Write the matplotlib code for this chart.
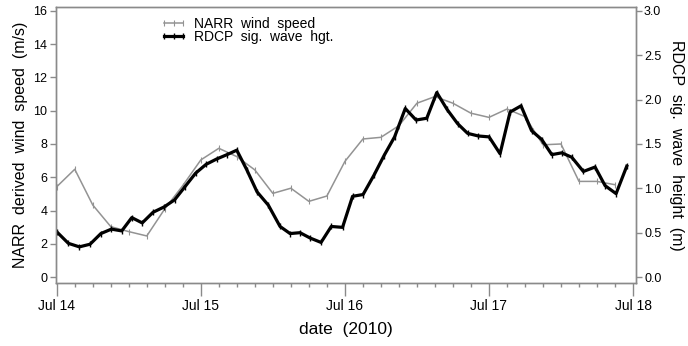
import numpy as np
import matplotlib
matplotlib.use("Agg")
import matplotlib.pyplot as plt
from matplotlib.ticker import MultipleLocator

plt.rcParams['font.family'] = ['Liberation Sans', 'DejaVu Sans']

# NARR wind speed (m/s), 3-hourly from Jul 14 00:00
narr_hours = np.arange(0, 96, 3)
narr_speed = [5.43, 6.48, 4.33, 3.03, 2.73, 2.47, 4.10, 5.50,
              7.04, 7.74, 7.24, 6.44, 5.03, 5.34, 4.55, 4.87,
              6.95, 8.30, 8.40, 9.10, 10.45, 10.85, 10.45, 9.85,
              9.60, 10.10, 9.65, 7.95, 8.00, 5.75, 5.75, 5.55]

# RDCP significant wave height (m), hours since Jul 14 00:00
rdcp_hours = [0.0, 1.93, 3.77, 5.55, 7.35, 9.10, 10.83, 12.50, 14.24, 16.04,
              17.88, 19.63, 21.38, 23.12, 24.87, 26.62, 28.37, 29.99, 31.65, 33.37,
              35.25, 37.20, 38.87, 40.53, 42.20, 44.03, 45.73, 47.61, 49.28, 51.03,
              52.86, 54.53, 56.28, 58.06, 59.86, 61.64, 63.31, 65.02, 66.77, 68.44,
              70.24, 72.02, 73.85, 75.52, 77.35, 79.10, 80.80, 82.47, 84.13, 85.80,
              87.73, 89.68, 91.35, 93.18, 94.96]
rdcp_hgt = [0.51, 0.38, 0.34, 0.37, 0.49, 0.54, 0.52, 0.67, 0.61, 0.73,
            0.79, 0.87, 1.02, 1.17, 1.27, 1.33, 1.38, 1.43, 1.21, 0.96,
            0.81, 0.57, 0.49, 0.50, 0.44, 0.39, 0.57, 0.56, 0.91, 0.93,
            1.15, 1.37, 1.58, 1.90, 1.77, 1.79, 2.08, 1.89, 1.73, 1.62,
            1.59, 1.58, 1.39, 1.86, 1.93, 1.65, 1.55, 1.38, 1.40, 1.35,
            1.19, 1.24, 1.03, 0.94, 1.25]

day_ticks = [0, 24, 48, 72, 96]
day_labels = ['Jul 14', 'Jul 15', 'Jul 16', 'Jul 17', 'Jul 18']

axis_grey = '#8a8a8a'

fig = plt.figure(figsize=(6.88, 3.46), dpi=100)
ax = fig.add_axes([0.081, 0.183, 0.843, 0.796])
ax2 = ax.twinx()

l1, = ax.plot(narr_hours, narr_speed, color='#939393', lw=1.1,
              marker='|', ms=4, mew=0.8, label='NARR  wind  speed')
l2, = ax2.plot(rdcp_hours, rdcp_hgt, color='black', lw=2.3,
               marker='|', ms=5, mew=1.0, label='RDCP  sig.  wave  hgt.')

ax.set_xlim(-0.17, 96.45)
ax.set_ylim(-0.34, 16.22)
ax2.set_ylim(-0.34 * 3 / 16, 16.22 * 3 / 16)

ax.set_xticks(day_ticks)
ax.set_xticklabels(day_labels)
ax.xaxis.set_minor_locator(MultipleLocator(3))
ax.yaxis.set_major_locator(MultipleLocator(2))
ax2.yaxis.set_major_locator(MultipleLocator(0.5))
ax2.yaxis.set_major_formatter(matplotlib.ticker.FormatStrFormatter('%.1f'))

for a in (ax, ax2):
    for s in a.spines.values():
        s.set_color(axis_grey)
        s.set_linewidth(1.0)
ax.tick_params(axis='x', which='major', length=9, width=1, color=axis_grey,
               labelsize=10, pad=3)
ax.tick_params(axis='x', which='minor', length=3, width=1, color=axis_grey)
ax.tick_params(axis='y', length=4, width=1, color=axis_grey, labelsize=9, pad=2)
ax2.tick_params(axis='y', length=4, width=1, color=axis_grey, labelsize=9, pad=2)

ax.set_xlabel('date  (2010)', fontsize=12.5, labelpad=6)
ax.set_ylabel('NARR  derived  wind  speed  (m/s)', fontsize=11.5, labelpad=4)
ax2.set_ylabel('RDCP  sig.  wave  height  (m)', fontsize=11.5, rotation=270,
               labelpad=16)

leg = ax.legend(handles=[l1, l2], loc='upper left', bbox_to_anchor=(0.17, 0.985),
                frameon=False, fontsize=10, numpoints=3, handlelength=2.0,
                handletextpad=0.45, labelspacing=-0.05, borderaxespad=0.0)

fig.savefig('out.png', dpi=100)
